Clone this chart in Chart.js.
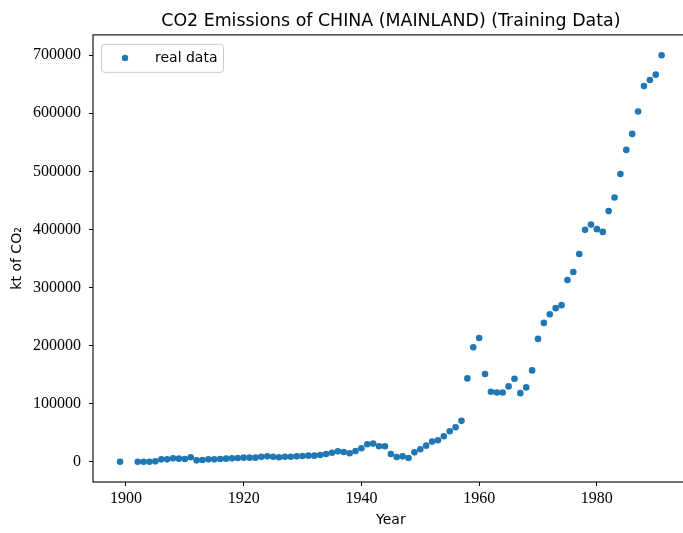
<!DOCTYPE html>
<html>
<head>
<meta charset="utf-8">
<script src="https://cdn.jsdelivr.net/npm/chart.js@4/dist/chart.umd.min.js"></script>
<style>
  html, body { margin: 0; padding: 0; background: #fff; overflow: hidden; }
  canvas { display: block; }
</style>
</head>
<body>
<canvas id="c" width="692" height="533"></canvas>
<script>
// Annual CO2 emissions, kilotonnes
const years = [1899, 1902, 1903, 1904, 1905, 1906, 1907, 1908, 1909, 1910,
  1911, 1912, 1913, 1914, 1915, 1916, 1917, 1918, 1919, 1920,
  1921, 1922, 1923, 1924, 1925, 1926, 1927, 1928, 1929, 1930,
  1931, 1932, 1933, 1934, 1935, 1936, 1937, 1938, 1939, 1940,
  1941, 1942, 1943, 1944, 1945, 1946, 1947, 1948, 1949, 1950,
  1951, 1952, 1953, 1954, 1955, 1956, 1957, 1958, 1959, 1960,
  1961, 1962, 1963, 1964, 1965, 1966, 1967, 1968, 1969, 1970,
  1971, 1972, 1973, 1974, 1975, 1976, 1977, 1978, 1979, 1980,
  1981, 1982, 1983, 1984, 1985, 1986, 1987, 1988, 1989, 1990, 1991];
const emissions = [0, 0, 0, 0, 600, 4000, 4000, 5700, 5200, 4600,
  7500, 2300, 2900, 4000, 4000, 4600, 5200, 5700, 6300, 6900,
  6900, 6900, 8600, 9200, 8600, 7500, 8600, 8600, 9200, 9800,
  10400, 10400, 11500, 13200, 15500, 17800, 16700, 14400, 18400, 23000,
  29900, 31100, 26500, 26500, 13300, 8100, 9200, 6300, 16100, 21300,
  27600, 34600, 36800, 43800, 52400, 59300, 70300, 143400, 197000, 213100,
  150900, 120400, 119200, 119200, 129600, 142900, 118000, 127900, 157200, 211400,
  239000, 254000, 264400, 269600, 312800, 326600, 357700, 399200, 408300, 400400,
  395700, 431500, 455000, 495400, 536900, 564500, 603100, 646800, 657200, 666500, 699800];

const xTicks = [1900, 1920, 1940, 1960, 1980];
const yTicks = [0, 100000, 200000, 300000, 400000, 500000, 600000, 700000];

const seriesLabel = 'real data';
const titleText = 'CO2 Emissions of CHINA (MAINLAND) (Training Data)';

const BLUE = '#1f77b4';
const SANS = "'DejaVu Sans', sans-serif";
const SERIF = "'Liberation Serif', serif";

// Full rectangular frame around the plotting area
const framePlugin = {
  id: 'frame',
  afterDraw(chart) {
    const { ctx, chartArea: a } = chart;
    ctx.save();
    ctx.strokeStyle = '#000';
    ctx.lineWidth = 1.1;
    ctx.strokeRect(a.left, a.top, a.right - a.left, a.bottom - a.top);
    ctx.restore();
  }
};

// Legend box placed inside the upper-left corner of the plot
const insideLegend = {
  id: 'insideLegend',
  afterDraw(chart) {
    const { ctx, chartArea: a } = chart;
    const ds = chart.data.datasets[0];
    const x = a.left + 8, y = a.top + 9, w = 122, h = 28, r = 3;
    ctx.save();
    ctx.beginPath();
    ctx.roundRect(x + 0.5, y + 0.5, w, h, r);
    ctx.fillStyle = 'rgba(255,255,255,0.8)';
    ctx.fill();
    ctx.strokeStyle = '#cccccc';
    ctx.lineWidth = 1;
    ctx.stroke();
    ctx.beginPath();
    ctx.arc(x + 24, y + 14, 3.2, 0, Math.PI * 2);
    ctx.fillStyle = ds.backgroundColor;
    ctx.fill();
    ctx.fillStyle = '#000';
    ctx.font = '14px ' + SANS;
    ctx.textBaseline = 'middle';
    ctx.textAlign = 'left';
    ctx.fillText(ds.label, x + 54, y + 14);
    ctx.restore();
  }
};

new Chart(document.getElementById('c'), {
  type: 'scatter',
  data: {
    datasets: [{
      label: seriesLabel,
      data: years.map((yr, i) => ({ x: yr, y: emissions[i] })),
      backgroundColor: BLUE,
      borderColor: BLUE,
      borderWidth: 0,
      pointRadius: 3.3,
      pointHoverRadius: 3.3
    }]
  },
  options: {
    responsive: false,
    devicePixelRatio: 1,
    animation: false,
    layout: { padding: { left: 0, right: 1, top: 0, bottom: 0 } },
    plugins: {
      legend: { display: false },
      tooltip: { enabled: false },
      title: {
        display: true,
        fullSize: false,
        text: titleText,
        color: '#000',
        font: { family: SANS, size: 17.4, weight: 'normal' },
        padding: { top: 11, bottom: 3 }
      }
    },
    scales: {
      x: {
        type: 'linear',
        min: 1894.4,
        max: 1995.6,
        afterBuildTicks(scale) { scale.ticks = xTicks.map(v => ({ value: v })); },
        afterFit(scale) { scale.height = 51; },
        grid: { display: true, drawOnChartArea: false, drawTicks: true, tickLength: 4, color: '#000', lineWidth: 1 },
        border: { display: false },
        ticks: {
          color: '#000',
          font: { family: SERIF, size: 16 },
          padding: 3,
          maxRotation: 0,
          callback: v => String(v)
        },
        title: {
          display: true,
          text: 'Year',
          color: '#000',
          font: { family: SANS, size: 14 },
          padding: { top: 0, bottom: 4.6 }
        }
      },
      y: {
        type: 'linear',
        min: -35000,
        max: 735000,
        afterBuildTicks(scale) { scale.ticks = yTicks.map(v => ({ value: v })); },
        afterFit(scale) { scale.width = 93; },
        grid: { display: true, drawOnChartArea: false, drawTicks: true, tickLength: 4, color: '#000', lineWidth: 1 },
        border: { display: false },
        ticks: {
          color: '#000',
          font: { family: SERIF, size: 16 },
          padding: 8,
          callback: v => String(v)
        },
        title: {
          display: true,
          text: 'kt of CO₂',
          color: '#000',
          font: { family: SANS, size: 14 },
          padding: { top: 9, bottom: 0 }
        }
      }
    }
  },
  plugins: [framePlugin, insideLegend]
});
</script>
</body>
</html>
